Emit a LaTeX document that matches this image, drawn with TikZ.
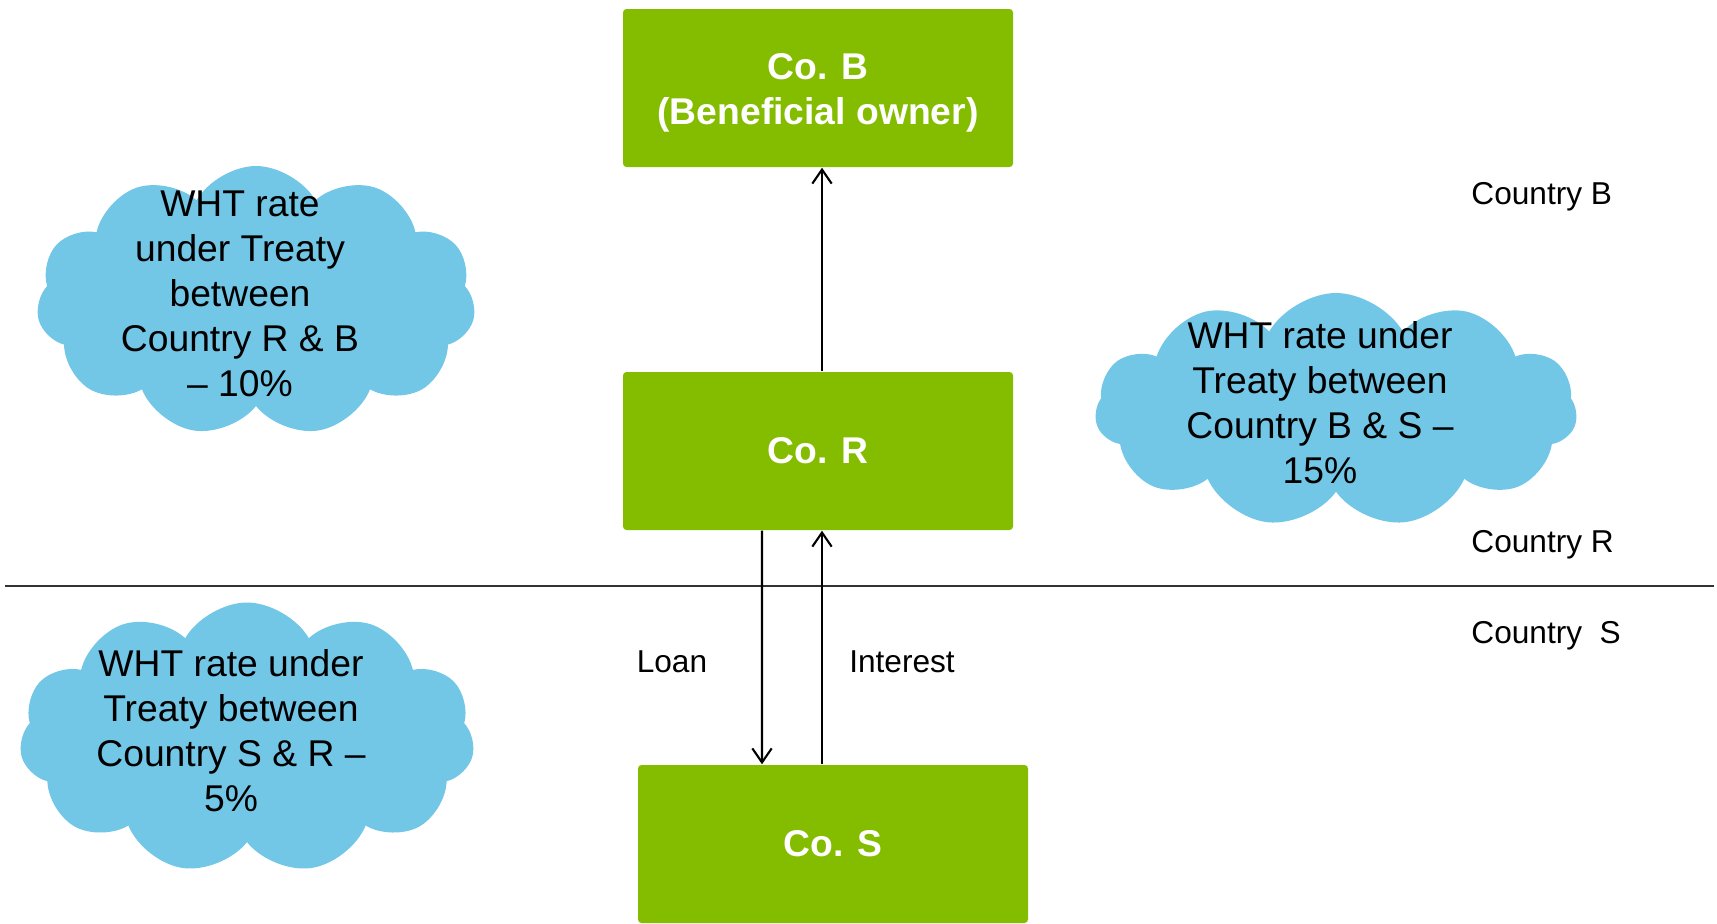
\documentclass[tikz,border=0pt]{standalone}
\usepackage{fontspec}
\setmainfont{Liberation Sans}
\usepackage{xcolor}
\usepackage{tikz}
\usetikzlibrary{shapes.symbols, positioning, arrows.meta}
\definecolor{cogreen}{RGB}{132,189,0}
\definecolor{treatyblue}{RGB}{114,198,230}
\newcommand{\companycolor}{cogreen}
\newcommand{\treatycolor}{treatyblue}
\tikzstyle{company} = [rectangle, rounded corners=1pt,
minimum width=3.9cm,
minimum height=1.58cm,
text centered,
align=center,
text=white,
font=\fontsize{10.6}{12.8}\selectfont\bfseries,
fill=\companycolor]
\tikzstyle{treaty} = [cloud, cloud puffs=11,
cloud puff arc=120,
aspect=1.6,
inner sep=0pt,
draw=none,
fill=\treatycolor]
\tikzstyle{treatytext} = [align=center,
xshift=-0.16cm, yshift=0.07cm,
font=\fontsize{10.6}{12.8}\selectfont]
\tikzstyle{country} = [anchor=west, font=\fontsize{9}{11}\selectfont]
\tikzstyle{flow} = [font=\fontsize{9}{11}\selectfont]
\tikzstyle{border} = [line width=0.6pt, draw=black!80]
\tikzstyle{arrow} = [line width=0.6pt, -{Straight Barb[length=4pt,width=5.5pt]}]

\begin{document}
\begin{tikzpicture}[node distance=3.63cm]
\useasboundingbox (0,0) rectangle (17.17,-9.23);

%-----------the companies
\node (coR) [company] at (8.18,-4.51) {Co. R};
\node (coB) [company, above of=coR] {\rule{0pt}{10.4pt}Co. B\\(Beneficial owner)};
\node (coS) [company, below of=coR, node distance=3.93cm, xshift=0.15cm] {Co. S};

%-----------the treaty rates
\node (treatyRB) [treaty, minimum width=4.39cm, minimum height=2.7cm,
  label={[treatytext]center:WHT rate\\under Treaty\\between\\Country R \& B\\-- 10\%}]
  at (2.56,-3.01) {};
\node (treatyBS) [treaty, minimum width=4.82cm, minimum height=2.34cm,
  label={[treatytext]center:WHT rate under\\Treaty between\\Country B \& S --\\15\%}]
  at (13.36,-4.10) {};
\node (treatySR) [treaty, minimum width=4.55cm, minimum height=2.71cm,
  label={[treatytext]center:WHT rate under\\Treaty between\\Country S \& R --\\5\%}]
  at (2.47,-7.38) {};

%-----------the countries
\node (countryB) [country] at (14.59,-1.97) {Country B};
\node (countryR) [country] at (14.59,-5.45) {Country R};
\node (countryS) [country] at (14.59,-6.36) {Country~~S};
\coordinate (borderW) at (0.05,-5.86);
\coordinate (borderE) at (17.14,-5.86);
\draw [border] (borderW) -- (borderE);

%-----------loan and interest
\node (loan) [flow] at (6.72,-6.62) {Loan};
\node (interest) [flow] at (9.02,-6.62) {Interest};

\draw [arrow] ([xshift=0.04cm]coR.north) -- ([xshift=0.04cm]coB.south);
\draw [arrow] ([xshift=-0.56cm]coR.south) -- ([xshift=-0.71cm]coS.north);
\draw [arrow] ([xshift=-0.11cm]coS.north) -- ([xshift=0.04cm]coR.south);

\end{tikzpicture}
\end{document}
